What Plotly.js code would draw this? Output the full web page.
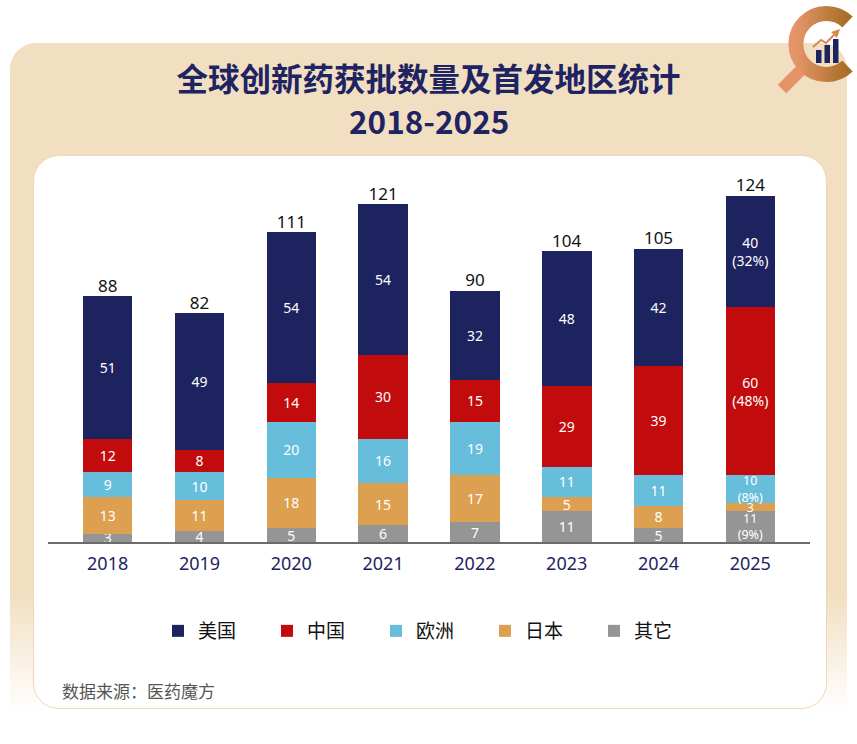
<!DOCTYPE html>
<html>
<head>
<meta charset="utf-8">
<script src="https://cdn.plot.ly/plotly-3.0.1.min.js"></script>
<style>
  html, body { margin: 0; padding: 0; background: #ffffff; }
  #wrap { position: relative; width: 857px; height: 744px; overflow: hidden; background: #ffffff; }
  #beige { position: absolute; left: 10px; top: 43px; width: 837px; height: 690px;
           border-radius: 26px 26px 0 0;
           background: linear-gradient(to bottom, #f2dfc2 0%, #f2dfc2 80%, #ffffff 97%); }
  #inner { position: absolute; left: 33px; top: 155px; width: 792px; height: 552px;
           border-radius: 26px; background: #ffffff; border: 1.5px solid #efd8b4; }
  #chart { position: absolute; left: 0; top: 0; width: 857px; height: 744px; }
  #logo { position: absolute; left: 0; top: 0; pointer-events: none; }
</style>
</head>
<body>
<div id="wrap">
  <div id="beige"></div>
  <div id="inner"></div>
  <div id="chart"></div>
  <svg id="logo" width="857" height="744">
    <defs>
      <linearGradient id="cg" x1="0" y1="0" x2="1" y2="0">
        <stop offset="0" stop-color="#e59569"/>
        <stop offset="1" stop-color="#a86e26"/>
      </linearGradient>
    </defs>
    <path d="M847.5,22 A30.5,30.5 0 1 0 847.5,66" fill="none" stroke="url(#cg)" stroke-width="15"/>
    <line x1="801" y1="70" x2="782" y2="89" stroke="#e39366" stroke-width="12"/>
    <rect x="816" y="50" width="5.5" height="13" fill="#1c235e"/>
    <rect x="824.5" y="45" width="5.5" height="18" fill="#1c235e"/>
    <rect x="833" y="39" width="5.5" height="24" fill="#1c235e"/>
    <polyline points="813,47 821,40 826,43 836,33" fill="none" stroke="#d9894f" stroke-width="2"/>
    <polygon points="840,29 831,32 837,38" fill="#d9894f"/>
  </svg>
</div>
<script>
// ---- data ----
const years      = ['2018', '2019', '2020', '2021', '2022', '2023', '2024', '2025'];
const usVals     = [51, 49, 54, 54, 32, 48, 42, 40];
const cnVals     = [12, 8, 14, 30, 15, 29, 39, 60];
const euVals     = [9, 10, 20, 16, 19, 11, 11, 10];
const jpVals     = [13, 11, 18, 15, 17, 5, 8, 3];
const otherVals  = [3, 4, 5, 6, 7, 11, 5, 11];
const usPct      = [null, null, null, null, null, null, null, '32%'];
const cnPct      = [null, null, null, null, null, null, null, '48%'];
const euPct      = [null, null, null, null, null, null, null, '8%'];
const jpPct      = [null, null, null, null, null, null, null, null];
const otherPct   = [null, null, null, null, null, null, null, '9%'];
const seriesNames = ['其它', '日本', '欧洲', '中国', '美国'];
const titleLine1 = '全球创新药获批数量及首发地区统计';
const titleLine2 = '2018-2025';
const sourceText = '数据来源：医药魔方';

const colors = { '美国': '#1c235e', '中国': '#c10b0c', '欧洲': '#66bedb', '日本': '#dca050', '其它': '#959595' };
const seriesVals = [otherVals, jpVals, euVals, cnVals, usVals];
const seriesPct = [otherPct, jpPct, euPct, cnPct, usPct];

// smaller label text for the thin 2025 segments (as in the reference)
const lastIdx = years.length - 1;
const labelSize = (v, j) => (j === lastIdx && v < 15) ? 12.5 : 14;

const traces = seriesNames.map((name, i) => {
  const sizes = seriesVals[i].map((v, j) => labelSize(v, j));
  const font = { family: 'Noto Sans, sans-serif', size: sizes, color: '#ffffff' };
  return {
    type: 'bar',
    name: name,
    x: years,
    y: seriesVals[i],
    text: seriesVals[i].map((v, j) => seriesPct[i][j] ? v + '<br>(' + seriesPct[i][j] + ')' : String(v)),
    textposition: 'inside',
    insidetextanchor: 'middle',
    constraintext: 'none',
    textangle: 0,
    cliponaxis: false,
    textfont: font,
    insidetextfont: font,
    marker: { color: colors[name], line: { width: 0 } },
    width: 0.54,
    hoverinfo: 'x+y+name'
  };
});

const totals = years.map((_, j) => seriesVals.reduce((s, arr) => s + arr[j], 0));
traces.push({
  type: 'scatter',
  mode: 'text',
  x: years,
  y: totals,
  text: totals.map(String),
  textposition: 'top center',
  textfont: { family: 'Noto Sans, sans-serif', size: 17, color: '#111111' },
  cliponaxis: false,
  showlegend: false,
  hoverinfo: 'skip'
});

const titleFont = { family: 'Noto Sans CJK SC, sans-serif', size: 31.5, color: '#1e2462', weight: 'bold' };

const layout = {
  width: 857,
  height: 744,
  margin: { l: 48, r: 47, t: 171, b: 202, pad: 0 },
  paper_bgcolor: 'rgba(0,0,0,0)',
  plot_bgcolor: 'rgba(0,0,0,0)',
  barmode: 'stack',
  bargap: 0.46,
  title: {
    text: titleLine1,
    font: titleFont,
    x: 0.5, xanchor: 'center', xref: 'container',
    y: 1 - 80 / 744, yanchor: 'middle', yref: 'container'
  },
  xaxis: {
    type: 'category',
    range: [-0.65, 7.65],
    showline: true, linecolor: '#6b6b6b', linewidth: 1.5,
    ticks: '', showgrid: false, zeroline: false,
    ticklabelstandoff: 5,
    tickfont: { family: 'Noto Sans, sans-serif', size: 18, color: '#1e2462' },
    fixedrange: true
  },
  yaxis: {
    range: [0, 132.8],
    visible: false, showgrid: false, zeroline: false, fixedrange: true
  },
  legend: {
    orientation: 'h',
    traceorder: 'reversed',
    x: (158 - 48) / 762, xanchor: 'left',
    y: (542 - 631) / 371, yanchor: 'middle',
    font: { family: 'Noto Sans CJK SC, sans-serif', size: 19, color: '#111111' },
    entrywidth: 64, entrywidthmode: 'pixels',
    bgcolor: 'rgba(0,0,0,0)'
  },
  annotations: [{
    text: titleLine2,
    xref: 'paper', yref: 'paper',
    x: (428.5 - 48) / 762, xanchor: 'center',
    y: (542 - 120) / 371, yanchor: 'middle',
    showarrow: false,
    font: titleFont
  }, {
    text: sourceText,
    xref: 'paper', yref: 'paper',
    x: (60 - 48) / 762, xanchor: 'left',
    y: (542 - 690) / 371, yanchor: 'middle',
    showarrow: false,
    font: { family: 'Noto Sans CJK SC, sans-serif', size: 17, color: '#555555' }
  }],
  showlegend: true
};

Plotly.newPlot('chart', traces, layout, { displayModeBar: false, staticPlot: true });
</script>
</body>
</html>
